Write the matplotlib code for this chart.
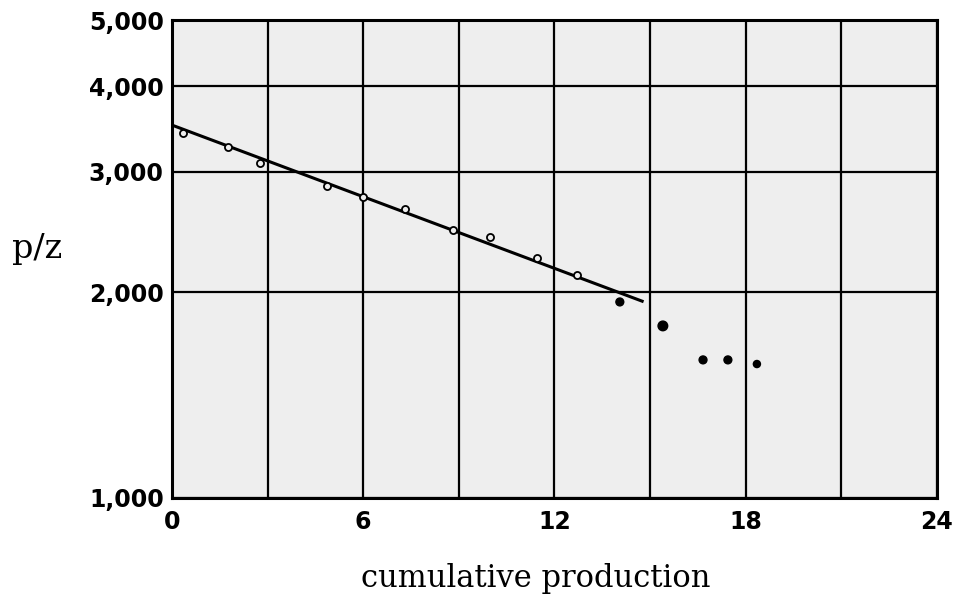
import matplotlib

matplotlib.use("Agg")

import matplotlib.pyplot as plt
from matplotlib.ticker import FixedLocator, NullFormatter, NullLocator

# measured points (cumulative production, p/z)
OPEN_X = [0.35, 1.76, 2.76, 4.86, 5.99, 7.31, 8.82, 9.98, 11.45, 12.71]
OPEN_Y = [3420, 3265, 3090, 2860, 2755, 2645, 2465, 2405, 2245, 2120]
FILLED_X = [14.05, 15.40, 16.66, 17.44, 18.35]
FILLED_Y = [1935, 1785, 1592, 1592, 1570]
# straight-line fit drawn through the early points
LINE_X = [0.0, 14.75]
LINE_Y = [3510, 1940]

X_TICKS = [0, 6, 12, 18, 24]
X_GRID = [3, 9, 15, 21]
Y_TICKS = [1000, 2000, 3000, 4000, 5000]
Y_LABELS = ["1,000", "2,000", "3,000", "4,000", "5,000"]


def main() -> None:
    fig = plt.figure(figsize=(9.57, 6.01), dpi=100)
    ax = fig.add_axes([0.1797, 0.1714, 0.7994, 0.7953])
    ax.set_facecolor("#eeeeee")

    ax.plot(LINE_X, LINE_Y, color="black", linewidth=2.2, zorder=3)
    ax.scatter(OPEN_X, OPEN_Y, s=26, facecolors="#eeeeee", edgecolors="black",
               linewidths=1.3, zorder=4)
    ax.scatter(FILLED_X, FILLED_Y, s=[32, 48, 32, 32, 26], color="black", zorder=4)

    ax.set_yscale("log")
    ax.set_xlim(0, 24)
    ax.set_ylim(1000, 5000)

    ax.xaxis.set_major_locator(FixedLocator(X_TICKS))
    ax.xaxis.set_minor_locator(FixedLocator(X_GRID))
    ax.xaxis.set_minor_formatter(NullFormatter())
    ax.set_xticklabels([str(t) for t in X_TICKS], fontsize=17, fontweight="bold")

    ax.yaxis.set_major_locator(FixedLocator(Y_TICKS))
    ax.yaxis.set_minor_locator(NullLocator())
    ax.set_yticklabels(Y_LABELS, fontsize=17, fontweight="bold")

    ax.tick_params(which="both", length=0)
    ax.tick_params(axis="x", pad=9)
    ax.tick_params(axis="y", pad=6)
    ax.grid(which="both", color="black", linewidth=1.6)
    ax.set_axisbelow(True)
    for spine in ax.spines.values():
        spine.set_linewidth(2.2)

    fig.text(0.013, 0.585, "p/z", fontsize=24, family="DejaVu Serif",
             ha="left", va="center")
    fig.text(0.56, 0.038, "cumulative production", fontsize=22,
             family="DejaVu Serif", ha="center", va="center")

    fig.savefig("out.png", dpi=100)


if __name__ == "__main__":
    main()
